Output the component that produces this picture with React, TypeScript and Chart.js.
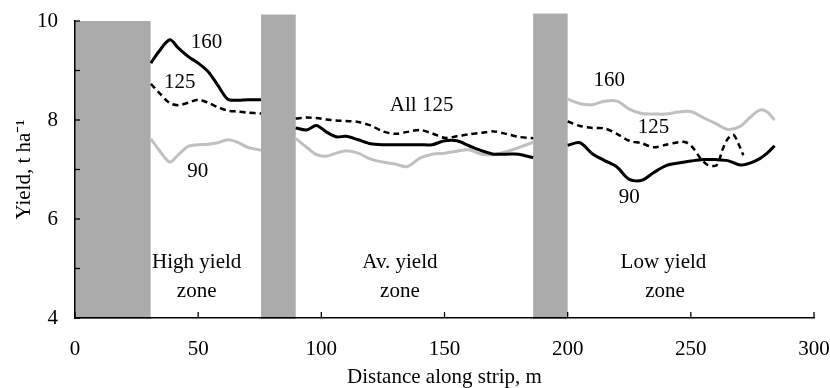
import React, { useEffect, useRef } from "react";
import { Chart, registerables } from "chart.js";

Chart.register(...registerables);

// ---- Data ----
// Grey blocks (transition zones): start, end, top (t/ha)
const bandStart = [0, 75.5, 186];
const bandEnd = [30.7, 89.6, 200];
const bandTop = [10, 10.13, 10.15];
const bandBase = 4;

// High yield zone
const dist1 = [30.8, 34, 38.5, 42, 46, 50, 54, 58, 62, 66, 70, 75.5];
const solid1 = [9.15, 9.38, 9.62, 9.45, 9.28, 9.15, 8.98, 8.7, 8.42, 8.4, 8.41, 8.41];
const dash1 = [8.73, 8.56, 8.34, 8.3, 8.35, 8.41, 8.35, 8.26, 8.19, 8.17, 8.15, 8.13];
const grey1 = [7.62, 7.4, 7.15, 7.3, 7.47, 7.5, 7.51, 7.54, 7.6, 7.55, 7.45, 7.39];

// Average yield zone
const dist2 = [89.6, 94, 98, 102, 106, 110, 115, 120, 125, 130, 135, 140, 145, 150, 155, 160, 165, 170, 175, 180, 186];
const solid2 = [7.84, 7.8, 7.89, 7.76, 7.66, 7.67, 7.6, 7.52, 7.5, 7.5, 7.5, 7.5, 7.5, 7.58, 7.58, 7.48, 7.38, 7.31, 7.31, 7.31, 7.24];
const dash2 = [8.03, 8.05, 8.04, 8.01, 7.99, 7.98, 7.96, 7.89, 7.77, 7.72, 7.76, 7.8, 7.73, 7.64, 7.67, 7.71, 7.74, 7.77, 7.72, 7.66, 7.63];
const grey2 = [7.63, 7.45, 7.3, 7.27, 7.33, 7.38, 7.33, 7.21, 7.15, 7.11, 7.06, 7.23, 7.31, 7.33, 7.37, 7.4, 7.31, 7.3, 7.36, 7.44, 7.55];

// Low yield zone
const dist3 = [200, 205, 210, 215, 220, 225, 230, 235, 240, 245, 250, 255, 260, 265, 270, 274, 278, 281, 284];
const solid3 = [7.49, 7.54, 7.32, 7.18, 7.05, 6.8, 6.78, 6.94, 7.08, 7.13, 7.17, 7.2, 7.2, 7.18, 7.09, 7.13, 7.22, 7.33, 7.48];
const grey3 = [8.42, 8.33, 8.31, 8.38, 8.38, 8.22, 8.13, 8.12, 8.12, 8.16, 8.17, 8.05, 7.93, 7.81, 7.87, 8.05, 8.2, 8.16, 8.0];
const dist3Dash = [200, 205, 210, 215, 220, 225, 230, 235, 240, 245, 248, 251, 254, 257, 260.5, 263, 265, 267.3, 269.5, 271.3];
const dash3 = [7.97, 7.88, 7.84, 7.83, 7.72, 7.58, 7.53, 7.45, 7.5, 7.55, 7.55, 7.43, 7.22, 7.09, 7.09, 7.42, 7.62, 7.7, 7.5, 7.29];

// Annotation texts and their data positions
const noteText = ["160", "125", "90", "All 125", "160", "125", "90", "High yield", "zone", "Av. yield", "zone", "Low yield", "zone"];
const noteX = [53.4, 42.5, 49.8, 140.7, 216.9, 234.8, 225, 49.4, 49.4, 131.9, 131.9, 238.9, 239.5];
const noteY = [9.56, 8.75, 6.95, 8.29, 8.79, 7.85, 6.44, 5.13, 4.54, 5.13, 4.54, 5.13, 4.54];

const xTitle = "Distance along strip, m";
const yTitle = "Yield, t ha\u207B\u00B9";

const FONT = "'Liberation Serif', 'Times New Roman', serif";

function pts(xs: number[], ys: number[]) {
  return xs.map((x, i) => ({ x, y: ys[i] }));
}
function joinZones(...zones: { x: number; y: number | null }[][]) {
  const out: { x: number; y: number | null }[] = [];
  zones.forEach((z, i) => {
    if (i > 0) out.push({ x: (out[out.length - 1].x + z[0].x) / 2, y: null });
    out.push(...z);
  });
  return out;
}

const bandsPlugin = {
  id: "bands",
  beforeDraw(chart: any) {
    const { ctx, scales } = chart;
    const xs = scales.x, ys = scales.y;
    ctx.save();
    ctx.fillStyle = "#ababab";
    for (let i = 0; i < bandStart.length; i++) {
      const x0 = xs.getPixelForValue(bandStart[i]);
      const x1 = xs.getPixelForValue(bandEnd[i]);
      const y0 = ys.getPixelForValue(bandTop[i]);
      const y1 = ys.getPixelForValue(bandBase);
      ctx.fillRect(x0, y0, x1 - x0, y1 - y0 + 1);
    }
    ctx.restore();
  },
};

const ticksPlugin = {
  id: "innerTicks",
  afterDraw(chart: any) {
    const { ctx, scales, chartArea } = chart;
    ctx.save();
    ctx.strokeStyle = "#000";
    ctx.lineWidth = 1.3;
    scales.x.ticks.forEach((t: any) => {
      const px = scales.x.getPixelForValue(t.value);
      ctx.beginPath();
      ctx.moveTo(px, chartArea.bottom);
      ctx.lineTo(px, chartArea.bottom - 6);
      ctx.stroke();
    });
    scales.y.ticks.forEach((t: any) => {
      const py = scales.y.getPixelForValue(t.value);
      ctx.beginPath();
      ctx.moveTo(chartArea.left, py);
      ctx.lineTo(chartArea.left + 5, py);
      ctx.stroke();
    });
    ctx.restore();
  },
};

const notesPlugin = {
  id: "notes",
  afterDatasetsDraw(chart: any) {
    const { ctx, scales } = chart;
    ctx.save();
    ctx.fillStyle = "#000";
    ctx.font = `21px ${FONT}`;
    ctx.textAlign = "center";
    ctx.textBaseline = "middle";
    noteText.forEach((t, i) => {
      ctx.fillText(t, scales.x.getPixelForValue(noteX[i]), scales.y.getPixelForValue(noteY[i]));
    });
    ctx.restore();
  },
};

export default function App() {
  const ref = useRef<HTMLCanvasElement>(null);
  useEffect(() => {
    document.body.style.margin = "0";
    if (!ref.current) return;
    const font = { family: FONT, size: 21 };
    const chart = new Chart(ref.current, {
      type: "line",
      data: {
        datasets: [
          {
            label: "grey",
            data: joinZones(pts(dist1, grey1), pts(dist2, grey2), pts(dist3, grey3)),
            borderColor: "#c0c0c0",
            borderWidth: 3,
            tension: 0.3,
            pointRadius: 0,
            spanGaps: false,
            order: 3,
          },
          {
            label: "dash",
            data: joinZones(pts(dist1, dash1), pts(dist2, dash2), pts(dist3Dash, dash3)),
            borderColor: "#000",
            borderWidth: 2.5,
            borderDash: [6, 4],
            tension: 0.3,
            pointRadius: 0,
            spanGaps: false,
            order: 2,
          },
          {
            label: "solid",
            data: joinZones(pts(dist1, solid1), pts(dist2, solid2), pts(dist3, solid3)),
            borderColor: "#000",
            borderWidth: 3,
            tension: 0.3,
            pointRadius: 0,
            spanGaps: false,
            order: 1,
          },
        ],
      },
      options: {
        animation: false,
        responsive: false,
        devicePixelRatio: 1,
        layout: { padding: { top: 21, right: 16, left: 0, bottom: 0 } },
        plugins: { legend: { display: false }, tooltip: { enabled: false } },
        scales: {
          x: {
            type: "linear",
            min: 0,
            max: 300,
            ticks: { stepSize: 50, font, color: "#000", padding: 19, maxRotation: 0 },
            grid: { display: false, drawTicks: false },
            border: { display: true, color: "#000", width: 1.5 },
            title: { display: true, text: xTitle, font, color: "#000", padding: { top: 0, bottom: -2 } },
            afterFit: (s: any) => {
              s.height = 70;
              s.paddingLeft = 0;
              s.paddingRight = 0;
            },
          },
          y: {
            type: "linear",
            min: 4,
            max: 10,
            ticks: {
              stepSize: 1,
              font,
              color: "#000",
              padding: 17,
              callback: (v: any) => (Number(v) % 2 === 0 ? String(v) : ""),
            },
            grid: { display: false, drawTicks: false },
            border: { display: true, color: "#000", width: 1.5 },
            title: { display: true, text: yTitle, font, color: "#000", padding: { top: 12, bottom: 0 } },
            afterFit: (s: any) => {
              s.width = 75;
              s.paddingTop = 0;
              s.paddingBottom = 0;
            },
          },
        },
      },
      plugins: [bandsPlugin, ticksPlugin, notesPlugin],
    } as any);
    return () => chart.destroy();
  }, []);
  return (
    <div style={{ width: 830, height: 388 }}>
      <canvas ref={ref} width={830} height={388} />
    </div>
  );
}
